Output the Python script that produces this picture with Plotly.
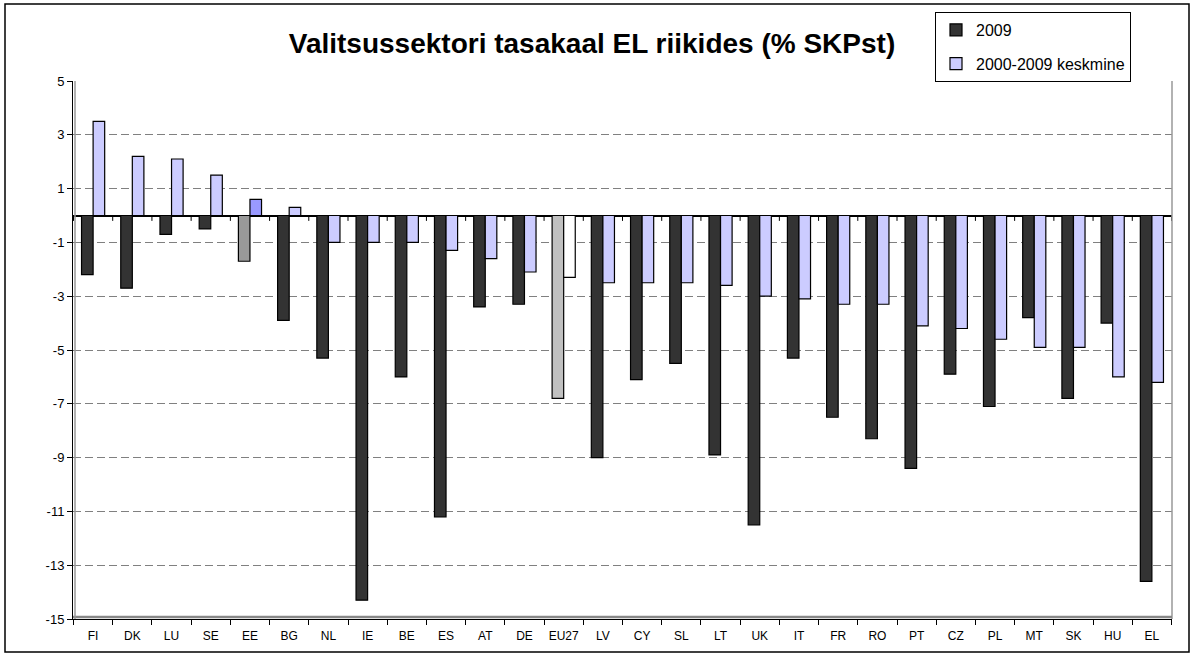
import plotly.graph_objects as go

countries = ["FI", "DK", "LU", "SE", "EE", "BG", "NL", "IE", "BE", "ES", "AT", "DE", "EU27", "LV",
             "CY", "SL", "LT", "UK", "IT", "FR", "RO", "PT", "CZ", "PL", "MT", "SK", "HU", "EL"]
balance_2009 = [-2.2, -2.7, -0.7, -0.5, -1.7, -3.9, -5.3, -14.3, -6.0, -11.2, -3.4, -3.3, -6.8, -9.0,
                -6.1, -5.5, -8.9, -11.5, -5.3, -7.5, -8.3, -9.4, -5.9, -7.1, -3.8, -6.8, -4.0, -13.6]
balance_avg = [3.5, 2.2, 2.1, 1.5, 0.6, 0.3, -1.0, -1.0, -1.0, -1.3, -1.6, -2.1, -2.3, -2.5,
               -2.5, -2.5, -2.6, -3.0, -3.1, -3.3, -3.3, -4.1, -4.2, -4.6, -4.9, -4.9, -6.0, -6.2]
series_names = ["2009", "2000-2009 keskmine"]
y_ticks = list(range(-15, 6, 2))
title_text = "Valitsussektori tasakaal EL riikides (% SKPst)"

base_colors = ("#333333", "#ccccff")
special_colors = {"EE": ("#999999", "#9999ff"), "EU27": ("#c0c0c0", "#ffffff")}
col_2009 = [special_colors.get(c, base_colors)[0] for c in countries]
col_avg = [special_colors.get(c, base_colors)[1] for c in countries]

FONT = "Liberation Sans, Arial, sans-serif"
W, H = 1195, 659
L, R, T, B = 73, 1172, 81, 619  # plot area in px

fig = go.Figure()
fig.add_trace(go.Bar(x=countries, y=balance_2009, name=series_names[0], legendgroup="a",
                     marker=dict(color=col_2009, line=dict(color="black", width=1.2))))
fig.add_trace(go.Bar(x=countries, y=balance_avg, name=series_names[1], legendgroup="b",
                     marker=dict(color=col_avg, line=dict(color="black", width=1.2))))

def px_x(p):
    return (p - L) / (R - L)

def px_y(p):
    return (B - p) / (B - T)

shapes = []
# small ticks under the zero line at category boundaries
for i in range(len(countries) + 1):
    shapes.append(dict(type="line", xref="x", yref="y", x0=i - 0.5, x1=i - 0.5, y0=0, y1=-0.2,
                       line=dict(color="black", width=1)))
# plot area frame (right and bottom gray)
shapes.append(dict(type="line", xref="paper", yref="paper", x0=1, x1=1, y0=0, y1=1,
                   line=dict(color="#999999", width=1.5)))
shapes.append(dict(type="line", xref="paper", yref="paper", x0=0, x1=1, y0=px_y(617), y1=px_y(617),
                   line=dict(color="#888888", width=2.5)))
shapes.append(dict(type="line", xref="paper", yref="paper", x0=px_x(75), x1=px_x(75), y0=0, y1=1,
                   line=dict(color="#999999", width=1.5)))
# outer chart frame
shapes.append(dict(type="rect", xref="paper", yref="paper", x0=px_x(5), x1=px_x(1189),
                   y0=px_y(652), y1=px_y(4), line=dict(color="black", width=1.5),
                   fillcolor="rgba(0,0,0,0)", layer="below"))

fig.update_layout(
    width=W, height=H,
    margin=dict(l=L, r=W - R, t=T, b=H - B),
    paper_bgcolor="white", plot_bgcolor="white",
    font=dict(family=FONT, color="black", size=12),
    barmode="group", bargap=0.41, bargroupgap=0.0,
    title=dict(text="<b>" + title_text + "</b>", font=dict(family=FONT, size=28, color="black"),
               x=592 / W, xanchor="center", xref="container",
               y=1 - 43 / H, yanchor="middle", yref="container"),
    legend=dict(x=px_x(935), y=px_y(12), xanchor="left", yanchor="top",
                bordercolor="black", borderwidth=1, bgcolor="white",
                font=dict(family=FONT, size=16, color="black"),
                itemwidth=30,
                traceorder="grouped", tracegroupgap=10),
    xaxis=dict(type="category", showline=True, linecolor="black", linewidth=1,
               ticks="outside", tickson="boundaries", ticklen=5, tickcolor="black",
               ticklabelstandoff=6, tickangle=0,
               tickfont=dict(family=FONT, size=12), showgrid=False, zeroline=False),
    yaxis=dict(range=[-15, 5], tickvals=y_ticks, ticktext=[str(v) for v in y_ticks],
               showline=True, linecolor="black", linewidth=1, ticks="outside", ticklen=5,
               tickcolor="black", tickfont=dict(family=FONT, size=13),
               showgrid=True, gridcolor="#808080", griddash="8px,4px", gridwidth=1,
               zeroline=True, zerolinecolor="black", zerolinewidth=2),
    shapes=shapes,
)

fig.write_html("out.html", config={"displayModeBar": False},
               post_script="document.body.style.margin='0px';")
